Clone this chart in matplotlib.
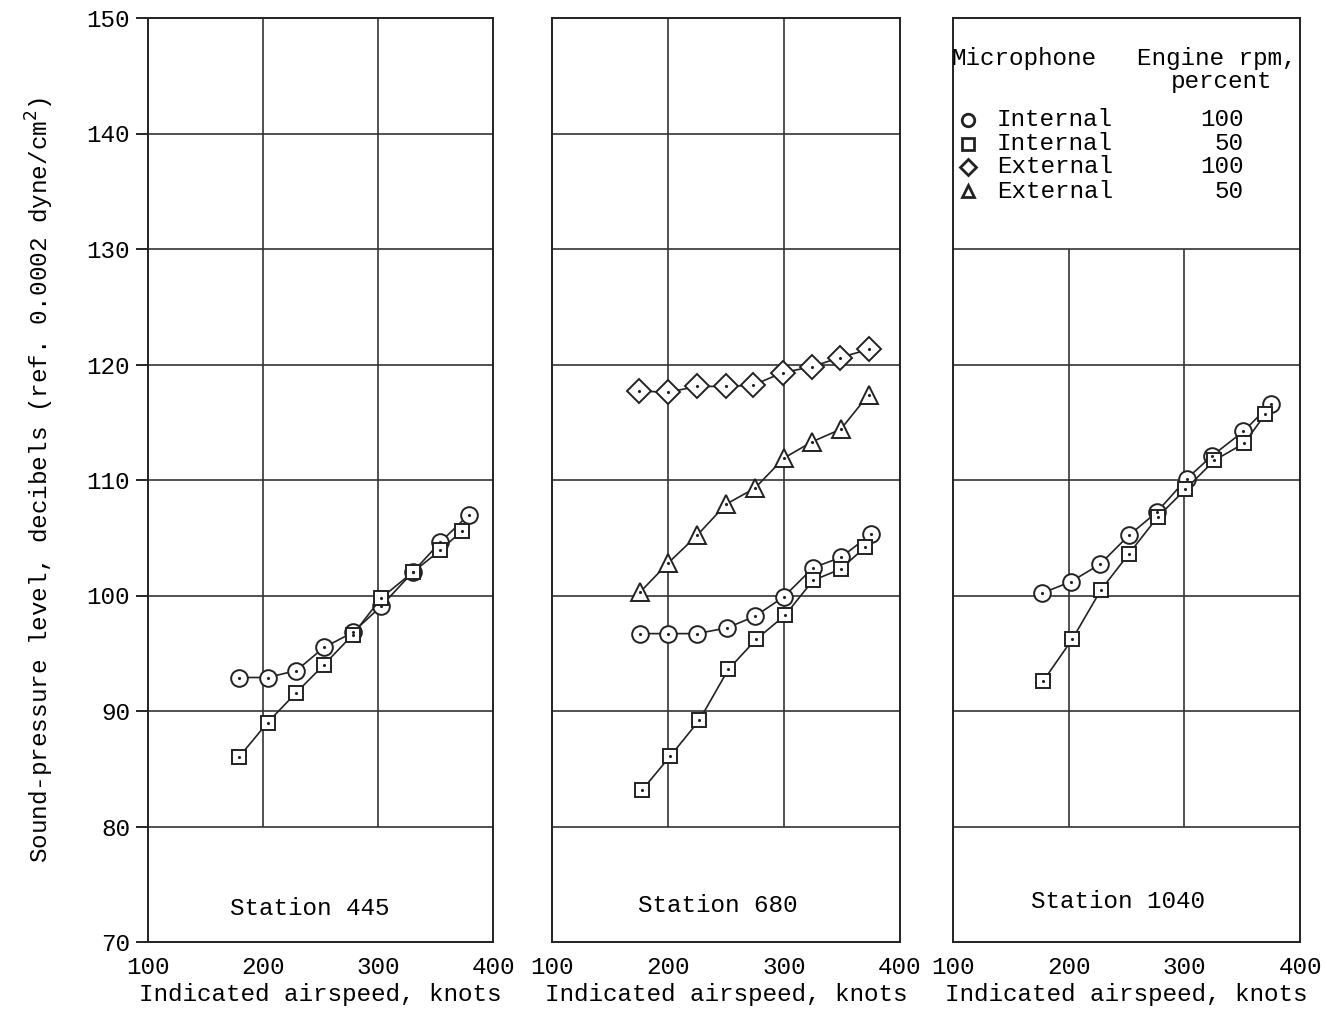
import matplotlib
matplotlib.use("Agg")
import matplotlib.pyplot as plt

plt.rcParams['font.family'] = ['Liberation Mono', 'DejaVu Sans Mono']

# ---- data ----
# Station 445
s445_int100_x = [179, 204, 229, 253, 278, 303, 330, 354, 379]
s445_int100_y = [92.9, 92.9, 93.5, 95.5, 96.8, 99.1, 102.0, 104.6, 107.0]
s445_int50_x = [179, 204, 229, 253, 278, 303, 330, 354, 373]
s445_int50_y = [86.0, 89.0, 91.6, 94.0, 96.6, 99.8, 102.0, 103.9, 105.6]

# Station 680
s680_ext100_x = [175, 200, 225, 250, 273, 299, 324, 348, 373]
s680_ext100_y = [117.7, 117.6, 118.1, 118.1, 118.2, 119.3, 119.8, 120.6, 121.3]
s680_ext50_x = [176, 200, 225, 250, 275, 300, 324, 349, 373]
s680_ext50_y = [100.3, 102.8, 105.2, 107.9, 109.3, 111.9, 113.3, 114.4, 117.4]
s680_int100_x = [176, 200, 225, 251, 275, 300, 325, 349, 375]
s680_int100_y = [96.7, 96.7, 96.7, 97.2, 98.2, 99.9, 102.4, 103.3, 105.3]
s680_int50_x = [178, 202, 227, 252, 276, 301, 325, 349, 370]
s680_int50_y = [83.2, 86.1, 89.2, 93.6, 96.2, 98.3, 101.3, 102.3, 104.2]

# Station 1040
s1040_int100_x = [177, 202, 227, 252, 276, 302, 324, 351, 375]
s1040_int100_y = [100.2, 101.2, 102.7, 105.2, 107.2, 110.1, 112.1, 114.2, 116.6]
s1040_int50_x = [178, 203, 228, 252, 277, 301, 326, 352, 370]
s1040_int50_y = [92.6, 96.2, 100.5, 103.6, 106.8, 109.2, 111.7, 113.2, 115.7]

x_ticks = [100, 200, 300, 400]
y_ticks = [70, 80, 90, 100, 110, 120, 130, 140, 150]
station_labels = ["Station 445", "Station 680", "Station 1040"]

legend_rows = [("o", "Internal", "100"), ("s", "Internal", "50"),
               ("D", "External", "100"), ("^", "External", "50")]

FS = 17.5
W, H = 1327, 1011
fig = plt.figure(figsize=(W / 100, H / 100), dpi=100)
fig.patch.set_facecolor('white')

lefts = [148, 552, 953]
rights = [493, 900, 1300]
top_px, bot_px = 18, 942
axes = []
for l, r in zip(lefts, rights):
    ax = fig.add_axes([l / W, 1 - bot_px / H, (r - l) / W, (bot_px - top_px) / H])
    ax.set_xlim(100, 400)
    ax.set_ylim(70, 150)
    for sp in ax.spines.values():
        sp.set_linewidth(1.4)
        sp.set_color('#222222')
    ax.set_xticks(x_ticks)
    ax.set_xticklabels([str(v) for v in x_ticks], fontsize=FS)
    ax.tick_params(axis='x', length=0, pad=10)
    ax.set_xlabel("Indicated airspeed, knots", fontsize=FS, labelpad=3)
    axes.append(ax)

gc = '#333333'
glw = 1.2
# grids
for ax in axes[:2]:
    ax.hlines([80, 90, 100, 110, 120, 130, 140], 100, 400, color=gc, lw=glw, zorder=1)
    ax.vlines([200, 300], 80, 150, color=gc, lw=glw, zorder=1)
axes[2].hlines([80, 90, 100, 110, 120, 130], 100, 400, color=gc, lw=glw, zorder=1)
axes[2].vlines([200, 300], 80, 130, color=gc, lw=glw, zorder=1)

axes[0].set_yticks(y_ticks)
axes[0].set_yticklabels([str(v) for v in y_ticks], fontsize=FS)
axes[0].tick_params(axis='y', length=9, width=1.2, direction='out', pad=4)
axes[0].set_ylabel("Sound-pressure level, decibels (ref. 0.0002 dyne/cm$^2$)",
                   fontsize=FS, labelpad=22)
for ax in axes[1:]:
    ax.set_yticks([])


def series(ax, x, y, marker, ms):
    ax.plot(x, y, color='#222222', lw=1.2, marker=marker, ms=ms, mfc='white',
            mec='#222222', mew=1.4, zorder=3)
    ax.plot(x, y, ls='none', marker='.', ms=2.5, color='#222222', zorder=4)


series(axes[0], s445_int100_x, s445_int100_y, 'o', 12)
series(axes[0], s445_int50_x, s445_int50_y, 's', 10.5)

series(axes[1], s680_ext100_x, s680_ext100_y, 'D', 12)
series(axes[1], s680_ext50_x, s680_ext50_y, '^', 13)
series(axes[1], s680_int100_x, s680_int100_y, 'o', 12)
series(axes[1], s680_int50_x, s680_int50_y, 's', 10.5)

series(axes[2], s1040_int100_x, s1040_int100_y, 'o', 12)
series(axes[2], s1040_int50_x, s1040_int50_y, 's', 10.5)

# station labels
station_pos = [(241, 72.9), (243, 73.2), (243, 73.5)]
for ax, lab, (sx, sy) in zip(axes, station_labels, station_pos):
    ax.text(sx, sy, lab, fontsize=FS, ha='center', va='center')

# legend table in panel 3
lax = axes[2]
lax.text(99, 146.5, "Microphone", fontsize=FS, ha='left', va='center')
lax.text(397, 146.5, "Engine rpm,", fontsize=FS, ha='right', va='center')
lax.text(332, 144.5, "percent", fontsize=FS, ha='center', va='center')
row_y = [141.2, 139.1, 137.1, 135.0]
for (mk, name, rpm), ry in zip(legend_rows, row_y):
    msz = {'o': 9, 's': 8, 'D': 8, '^': 9}[mk]
    lax.plot([113], [ry], marker=mk, ms=msz, mfc='none', mec='#222222', mew=2.0,
             clip_on=False)
    lax.text(138, ry, name, fontsize=FS, ha='left', va='center')
    lax.text(351, ry, rpm, fontsize=FS, ha='right', va='center')

fig.savefig("out.png", dpi=100, facecolor='white')
